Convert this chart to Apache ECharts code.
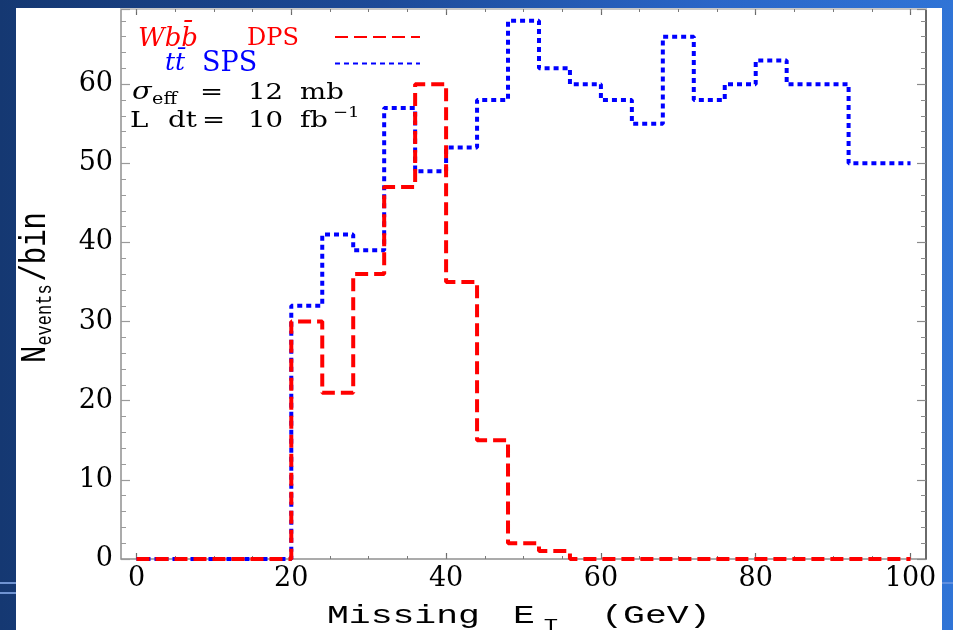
<!DOCTYPE html>
<html>
<head>
<meta charset="utf-8">
<script src="https://cdn.jsdelivr.net/npm/echarts@6/dist/echarts.min.js"></script>
<style>
  html, body { margin:0; padding:0; width:953px; height:630px; overflow:hidden; }
  body { background: linear-gradient(to right, #153872 0%, #1d4a98 40%, #2a66c8 75%, #3074d6 100%); position:relative; }
  #panel { position:absolute; left:16px; top:8px; width:926px; height:622px; background:#ffffff; }
  .deco { position:absolute; height:2px; background:#6f93d2; }
  #chart { position:absolute; left:0; top:0; width:953px; height:630px; }
</style>
</head>
<body>
<div class="deco" style="left:0;top:582px;width:16px;"></div>
<div class="deco" style="left:0;top:592px;width:16px;"></div>
<div class="deco" style="left:942px;top:582px;width:11px;background:#5f8fe0;"></div>
<div id="panel"></div>
<div id="chart"></div>
<script>
// ---- data ----
const binEdges = [0,4,8,12,16,20,24,28,32,36,40,44,48,52,56,60,64,68,72,76,80,84,88,92,96,100];
const wbbDPS   = [0,0,0,0,0,30,21,36,47,60,35,15,2,1,0,0,0,0,0,0,0,0,0,0,0];
const ttSPS    = [0,0,0,0,0,32,41,39,57,49,52,58,68,62,60,58,55,66,58,60,63,60,60,50,50];
const seriesNames = ['Wbb DPS', 'tt SPS'];
const xTickLabels = [0,20,40,60,80,100];
const xMinorTicks = [0,5,10,15,20,25,30,35,40,45,50,55,60,65,70,75,80,85,90,95,100];
const yTickLabels = [0,10,20,30,40,50,60];

function stepData(vals) {
  return binEdges.map((x, i) => [x, vals[Math.min(i, vals.length - 1)]]);
}

const chart = echarts.init(document.getElementById('chart'), null, {renderer:'canvas'});
const labelFont = 'DejaVu Serif';
const yLab = v => (yTickLabels.indexOf(v) >= 0 ? String(v) : '');
const noLine = {show:false, onZero:false};

function tick(len, color, w, custom) {
  const t = {show:true, inside:true, length:len, lineStyle:{color:color, width:w}};
  if (custom) t.customValues = custom;
  return t;
}

const option = {
  animation: false,
  backgroundColor: 'transparent',
  grid: { left:121, right:27, top:9, bottom:71, containLabel:false,
          show:true, borderColor:'#909090', borderWidth:1.5, backgroundColor:'transparent' },
  xAxis: [
    { type:'value', position:'bottom', min:-2, max:102, axisLine:noLine,
      axisTick:tick(6, '#6a6a6a', 1.2, xTickLabels),
      axisLabel:{show:true, customValues:xTickLabels, fontFamily:labelFont, fontSize:27, color:'#000', margin:6},
      splitLine:{show:false} },
    { type:'value', position:'bottom', min:-2, max:102, axisLine:noLine,
      axisTick:tick(3, '#7a7a7a', 1, xMinorTicks),
      axisLabel:{show:false}, splitLine:{show:false} },
    { type:'value', position:'top', min:-2, max:102,
      axisLine:{show:true, onZero:false, lineStyle:{color:'#c8c8c8', width:2}},
      axisTick:tick(6, '#6a6a6a', 1.2, xTickLabels),
      axisLabel:{show:false}, splitLine:{show:false} },
    { type:'value', position:'top', min:-2, max:102, axisLine:noLine,
      axisTick:tick(3, '#7a7a7a', 1, xMinorTicks),
      axisLabel:{show:false}, splitLine:{show:false} }
  ],
  yAxis: [
    { type:'value', position:'left', min:0, max:69.5, interval:10, axisLine:noLine,
      axisTick:tick(9, '#9a9a9a', 1.2),
      axisLabel:{show:true, formatter:yLab, fontFamily:labelFont, fontSize:27, color:'#000', margin:8},
      splitLine:{show:false} },
    { type:'value', position:'left', min:0, max:69.5, interval:2, axisLine:noLine,
      axisTick:tick(5, '#9a9a9a', 1),
      axisLabel:{show:false}, splitLine:{show:false} },
    { type:'value', position:'right', min:0, max:69.5, interval:10,
      axisLine:{show:true, onZero:false, lineStyle:{color:'#555555', width:1.5}},
      axisTick:tick(9, '#8a8a8a', 1.2),
      axisLabel:{show:false}, splitLine:{show:false} },
    { type:'value', position:'right', min:0, max:69.5, interval:2, axisLine:noLine,
      axisTick:tick(5, '#8a8a8a', 1),
      axisLabel:{show:false}, splitLine:{show:false} }
  ],
  legend: {
    orient:'vertical', left:130, top:22, align:'right',
    itemWidth:85, itemHeight:14, itemGap:-2, padding:0,
    selectedMode:false,
    itemStyle:{opacity:0},
    textStyle:{ fontFamily:labelFont, fontSize:21,
      rich:{
        sp:{width:8, align:'left'}, sp2:{width:35, align:'left'},
        ri:{fontFamily:labelFont, fontStyle:'italic', fontSize:26, color:'#ff0000', width:109, lineHeight:26, align:'left', padding:[4,0,0,0]},
        r:{fontFamily:labelFont, fontSize:24, color:'#ff0000', width:83, lineHeight:26, align:'left', padding:[4,0,0,0]},
        bi:{fontFamily:labelFont, fontStyle:'italic', fontSize:25, color:'#0000ff', width:37, lineHeight:26, align:'left'},
        b:{fontFamily:labelFont, fontSize:27, color:'#0000ff', width:128, lineHeight:26, align:'left'}
      }
    },
    formatter: function(name) {
      return name === seriesNames[0]
        ? '{sp| }{ri|Wbb\u0304}{r|DPS}'
        : '{sp2| }{bi|tt\u0304}{b|SPS}';
    },
    data: seriesNames
  },
  series: [
    { name: seriesNames[1], type:'line', step:'end', symbol:'none', showSymbol:false,
      xAxisIndex:0, yAxisIndex:0, clip:true,
      lineStyle:{color:'#0000ff', width:4, type:[5,4]}, itemStyle:{color:'#0000ff'},
      data: stepData(ttSPS), z:2 },
    { name: seriesNames[0], type:'line', step:'end', symbol:'none', showSymbol:false,
      xAxisIndex:0, yAxisIndex:0, clip:true,
      lineStyle:{color:'#ff0000', width:4, type:[13,6]}, itemStyle:{color:'#ff0000'},
      data: stepData(wbbDPS), z:3 }
  ],
  graphic: [
    { type:'text', x:132, y:93, scaleX:1.2, z:10,
      style:{ text:'{s|\u03C3}{sub|eff}{m|=}{m2|12}{m|mb}', verticalAlign:'middle', align:'left',
        rich:{
          s:{fontFamily:labelFont, fontStyle:'italic', fontSize:24, color:'#000', width:16.7, lineHeight:30},
          sub:{fontFamily:labelFont, fontSize:16, color:'#000', width:40, lineHeight:16, verticalAlign:'bottom'},
          m:{fontFamily:labelFont, fontSize:23, color:'#000', width:40, lineHeight:30},
          m2:{fontFamily:labelFont, fontSize:23, color:'#000', width:43.3, lineHeight:30}
        } } },
    { type:'text', x:130, y:121, scaleX:1.2, z:10,
      style:{ text:'{a|L}{b|dt}{c|=}{d|10}{e|fb}{sup|\u22121}', verticalAlign:'middle', align:'left',
        rich:{
          a:{fontFamily:labelFont, fontSize:23, color:'#000', width:31.7, lineHeight:30},
          b:{fontFamily:labelFont, fontSize:23, color:'#000', width:28.3, lineHeight:30},
          c:{fontFamily:labelFont, fontSize:23, color:'#000', width:38.3, lineHeight:30},
          d:{fontFamily:labelFont, fontSize:23, color:'#000', width:43.3, lineHeight:30},
          e:{fontFamily:labelFont, fontSize:23, color:'#000', width:27.5, lineHeight:30},
          sup:{fontFamily:labelFont, fontSize:15, color:'#000', lineHeight:15, verticalAlign:'top'}
        } } },
    { type:'text', x:327, y:616, scaleX:1.4, z:10,
      style:{ text:'{a|Missing}{b|E}{s|T}{c|(GeV)}', verticalAlign:'middle', align:'left',
        rich:{
          a:{fontFamily:'Liberation Mono', fontSize:26, color:'#000', width:132.9, lineHeight:36},
          b:{fontFamily:'Liberation Mono', fontSize:26, color:'#000', width:22, lineHeight:36},
          s:{fontFamily:'Liberation Mono', fontSize:17, color:'#000', width:41, lineHeight:19, verticalAlign:'bottom'},
          c:{fontFamily:'Liberation Mono', fontSize:26, color:'#000', lineHeight:36}
        } } },
    { type:'text', x:35.5, y:363, rotation:Math.PI/2, scaleY:1.3, z:10,
      style:{ text:'{a|N}{s|events}{a|/bin}', verticalAlign:'middle', align:'left',
        rich:{
          a:{fontFamily:'Liberation Mono', fontSize:29, color:'#000', lineHeight:32},
          s:{fontFamily:'Liberation Mono', fontSize:17, color:'#000', width:64, lineHeight:17, verticalAlign:'bottom'}
        } } }
  ]
};
chart.setOption(option);
</script>
</body>
</html>
